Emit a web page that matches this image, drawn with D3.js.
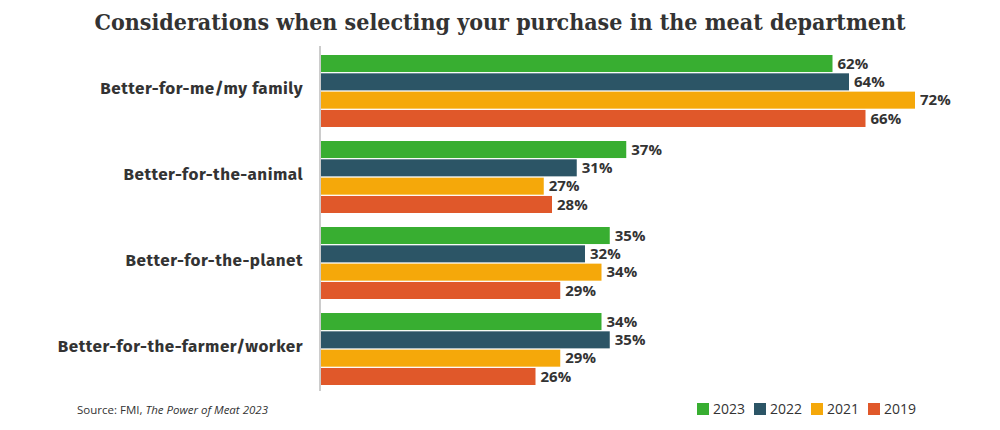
<!DOCTYPE html>
<html>
<head>
<meta charset="utf-8">
<script src="https://cdn.jsdelivr.net/npm/d3@7"></script>
<style>
  body { margin: 0; background: #fff; }
  text { fill: #333; }
</style>
</head>
<body>
<div id="chart"></div>
<script>
const categories = ["Better-for-me/my family", "Better-for-the-animal", "Better-for-the-planet", "Better-for-the-farmer/worker"];
const years = ["2023", "2022", "2021", "2019"];
const values2023 = [62, 37, 35, 34];
const values2022 = [64, 31, 32, 35];
const values2021 = [72, 27, 34, 29];
const values2019 = [66, 28, 29, 26];
const colors = ["#38ae31", "#2c5566", "#f5a80a", "#e0582a"];

const series = [values2023, values2022, values2021, values2019];
const rows = categories.map((c, i) => ({
  name: c,
  values: years.map((y, j) => ({ year: y, value: series[j][i] }))
}));

const width = 1000, height = 430;
const plotLeft = 321, plotTop = 55, plotBottom = 385;

const svg = d3.select("#chart").append("svg")
  .attr("width", width).attr("height", height);

svg.append("text")
  .attr("x", width / 2).attr("y", 30)
  .attr("text-anchor", "middle")
  .style("font-family", "'DejaVu Serif Condensed', 'DejaVu Serif', serif")
  .style("font-weight", "bold")
  .style("font-size", "23px")
  .text("Considerations when selecting your purchase in the meat department");

const x = d3.scaleLinear().domain([0, 72]).range([plotLeft, 915]);
const y0 = d3.scaleBand().domain(categories).range([plotTop, plotBottom]).paddingInner(0.163).paddingOuter(0);
const y1 = d3.scaleBand().domain(years).range([0, y0.bandwidth()]).paddingInner(0.07);

// axis line
svg.append("line")
  .attr("x1", plotLeft - 1).attr("x2", plotLeft - 1)
  .attr("y1", 46).attr("y2", 391)
  .attr("stroke", "#ccc").attr("stroke-width", 2);

const groups = svg.selectAll("g.cat")
  .data(rows).enter().append("g")
  .attr("class", "cat")
  .attr("transform", d => `translate(0,${y0(d.name)})`);

groups.append("text")
  .attr("x", 303)
  .attr("y", y0.bandwidth() / 2 - 3)
  .attr("dy", "0.35em")
  .attr("text-anchor", "end")
  .style("font-family", "'Fira Sans', 'Open Sans', sans-serif")
  .style("font-weight", "bold")
  .style("font-size", "17px")
  .style("letter-spacing", "0.5px")
  .text(d => d.name);

groups.selectAll("rect")
  .data(d => d.values).enter().append("rect")
  .attr("x", plotLeft)
  .attr("y", d => y1(d.year))
  .attr("width", d => x(d.value) - plotLeft)
  .attr("height", y1.bandwidth())
  .attr("fill", (d, i) => colors[i]);

groups.selectAll("text.val")
  .data(d => d.values).enter().append("text")
  .attr("class", "val")
  .attr("x", d => x(d.value) + 5)
  .attr("y", d => y1(d.year) + y1.bandwidth() / 2)
  .attr("dy", "0.35em")
  .style("font-family", "'Open Sans', sans-serif")
  .style("font-weight", "bold")
  .style("font-size", "15px")
  .text(d => d.value + "%");

// source
const src = svg.append("text")
  .attr("x", 77).attr("y", 414)
  .style("font-family", "'Open Sans', sans-serif")
  .style("font-size", "11.5px");
src.append("tspan").text("Source: FMI, ");
src.append("tspan").style("font-style", "italic").text("The Power of Meat 2023");

// legend
const legend = svg.append("g").attr("transform", "translate(697,403)");
let lx = 0;
years.forEach((yr, i) => {
  const g = legend.append("g").attr("transform", `translate(${lx},0)`);
  g.append("rect").attr("width", 12).attr("height", 12).attr("fill", colors[i]);
  g.append("text").attr("x", 16).attr("y", 6).attr("dy", "0.35em")
    .style("font-family", "'Open Sans', sans-serif")
    .style("font-size", "14px")
    .text(yr);
  lx += 57;
});
</script>
</body>
</html>
